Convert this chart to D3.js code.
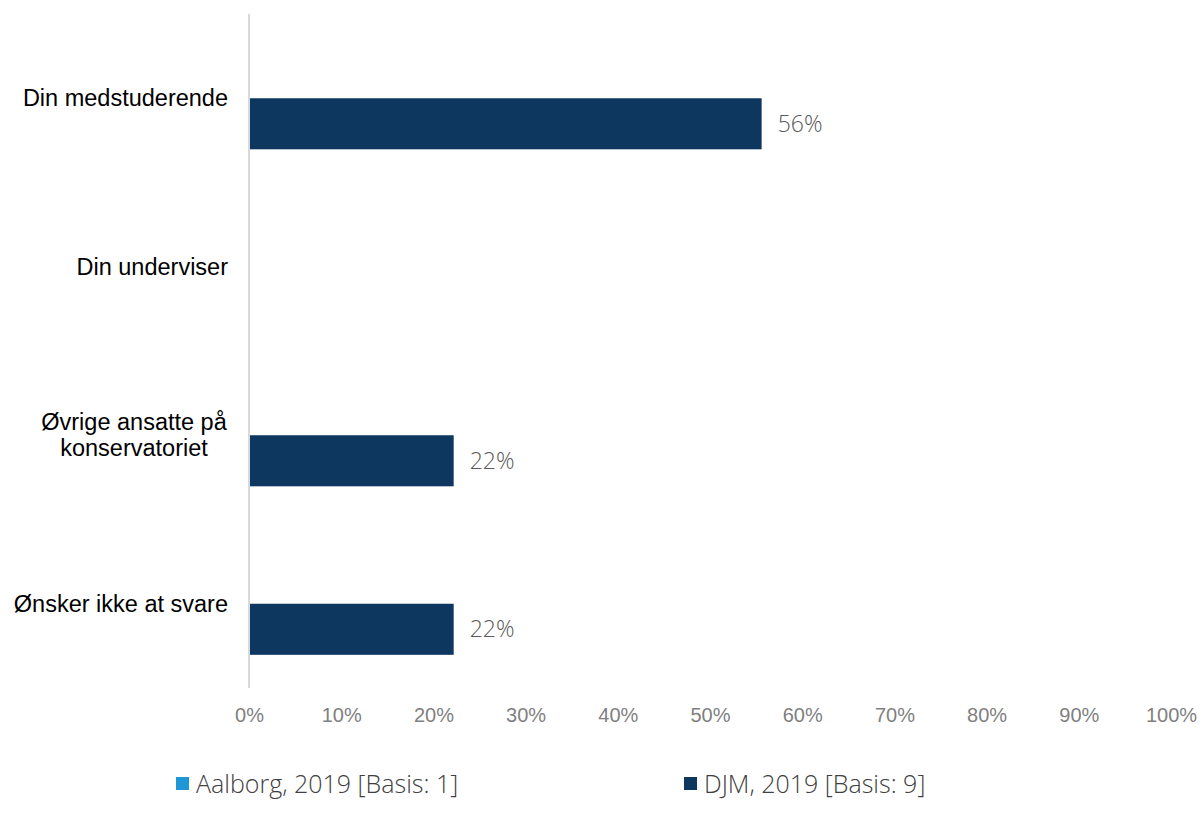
<!DOCTYPE html>
<html>
<head>
<meta charset="utf-8">
<script src="https://cdn.jsdelivr.net/npm/d3@7"></script>
<style>
body{margin:0;background:#fff;}
svg{display:block;}
</style>
</head>
<body>
<svg id="chart" width="1203" height="824"></svg>
<script>
const categories = [["Din medstuderende"], ["Din underviser"], ["Øvrige ansatte på", "konservatoriet"], ["Ønsker ikke at svare"]];
const seriesNames = ["Aalborg, 2019 [Basis: 1]", "DJM, 2019 [Basis: 9]"];
const aalborgValues = [0, 0, 0, 0];
const djmValues = [0.556, 0, 0.222, 0.222];
const tickValues = [0, 0.1, 0.2, 0.3, 0.4, 0.5, 0.6, 0.7, 0.8, 0.9, 1.0];
const colors = ["#1f97d4", "#0e3760"];

const svg = d3.select("#chart");
const x = d3.scaleLinear().domain([0, 1]).range([249, 1171]);
const y = d3.scaleBand().domain(d3.range(categories.length)).range([14, 688]);
const inner = d3.scaleBand().domain([0, 1]).range([0, y.bandwidth()]).paddingInner(0).paddingOuter(0.65);

// axis line
svg.append("line").attr("x1", x(0)).attr("x2", x(0)).attr("y1", 14).attr("y2", 688)
  .attr("stroke", "#d9d9d9").attr("stroke-width", 2);

// x axis tick labels
const xAxis = d3.axisBottom(x).tickValues(tickValues).tickFormat(d3.format(".0%")).tickSize(0);
const gx = svg.append("g").attr("transform", "translate(0,705)").call(xAxis);
gx.select(".domain").remove();
gx.selectAll("text").attr("font-family", "Liberation Sans, Arial, sans-serif").attr("font-size", 20)
  .attr("fill", "#7f7f7f").attr("dy", "0.71em");

// bars
const series = [aalborgValues, djmValues];
series.forEach((vals, si) => {
  svg.append("g").selectAll("rect").data(vals.map((v, i) => ({v, i}))).join("rect")
    .attr("x", x(0) + 1)
    .attr("y", d => y(d.i) + inner(si))
    .attr("width", d => Math.max(0, x(d.v) - x(0) - 1))
    .attr("height", inner.bandwidth())
    .attr("fill", colors[si])
    .attr("display", d => d.v > 0 ? null : "none");
});

// value labels
svg.append("g").selectAll("text").data(djmValues.map((v, i) => ({v, i})).filter(d => d.v > 0)).join("text")
  .attr("x", d => x(d.v) + 16)
  .attr("y", d => y(d.i) + inner(1) + inner.bandwidth() / 2)
  .text(d => d3.format(".0%")(d.v))
  .attr("dy", "0.35em")
  .attr("font-family", "Open Sans, sans-serif").attr("font-weight", 300).attr("font-size", 23)
  .attr("fill", "#595959");

// category labels
const gy = svg.append("g");
categories.forEach((lines, i) => {
  const cy = y(i) + y.bandwidth() / 2;
  const multi = lines.length > 1;
  const t = gy.append("text").attr("text-anchor", multi ? "middle" : "end")
    .attr("font-family", "Liberation Sans, Arial, sans-serif").attr("font-size", 23.5).attr("fill", "#000");
  const lh = 26;
  lines.forEach((ln, j) => {
    t.append("tspan").attr("x", multi ? 134 : 228)
      .attr("y", cy + (j - (lines.length - 1) / 2) * lh)
      .attr("dy", "0.35em").text(ln);
  });
});

// legend
const legendX = [176, 684];
seriesNames.forEach((n, i) => {
  svg.append("rect").attr("x", legendX[i]).attr("y", 777).attr("width", 13).attr("height", 13).attr("fill", colors[i]);
  svg.append("text").attr("x", legendX[i] + 20).attr("y", 784).attr("dy", "0.35em")
    .attr("font-family", "Open Sans, sans-serif").attr("font-weight", 300).attr("font-size", 25)
    .attr("fill", "#404040").text(n);
});
</script>
</body>
</html>
